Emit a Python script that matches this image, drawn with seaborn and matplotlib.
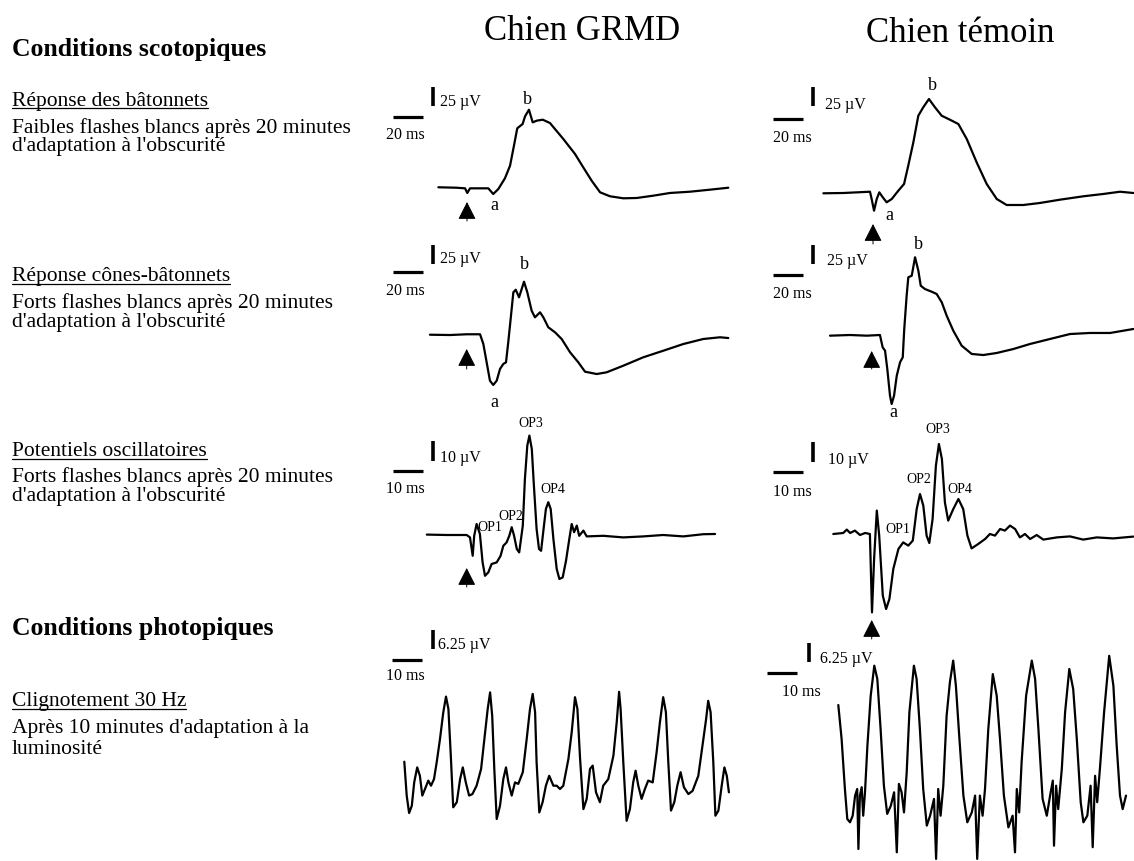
import matplotlib
matplotlib.use('Agg')
import matplotlib.pyplot as plt
import seaborn as sns

# ERG traces: time in ms (0 = flash), amplitude in uV
rod_grmd_ms = [-19.1, -6.9, -1.3, 0.2, 2, 14.2, 17.5, 20.9, 25.3, 28.7, 31.3, 33.5, 37.1, 38.7, 41.3, 43.8,
               46.5, 50.5, 55.3, 64.2, 72, 77.5, 83.1, 88.7, 95.3, 104.2, 113.1, 124.2, 135.3, 148.7, 162, 174.2]
rod_grmd_uv = [0.3, -0.3, -1.1, -7.3, -1.1, -1.1, -8.7, -2, 12.3, 29.1, 55.7, 78.9, 84.7, 94.9, 103.7, 86.9,
               89.1, 90.4, 86, 64.7, 44.7, 26.9, 9.1, -6.4, -11.7, -14.4, -14, -10.9, -7.3, -5.6, -2.9, -0.3]

rod_ctrl_ms = [-33.1, -19.8, -2, -0.9, 0.7, 2.5, 4.2, 6.5, 9.1, 12.5, 16.9, 20.7, 23.5, 26.9, 30.2, 33.5, 37.3,
               41.3, 45.8, 51.3, 56.9, 62.5, 69.1, 75.8, 82.5, 89.1, 100.2, 111.3, 124.7, 140.2, 153.5, 164.7, 173.6]
rod_ctrl_uv = [-0.4, 0, 1.7, -8, -23.6, -8, 0.9, -5.7, -12.4, -8, 3.1, 12, 36.4, 67.6, 103, 114.3, 125.3,
               114.3, 103, 97.7, 92, 72, 40.9, 12, -8, -16, -16, -13.3, -8.9, -4.4, -1.3, 1.7, 0]

mixed_grmd_ms = [-24.5, -11.1, 0, 8.9, 11.1, 13.3, 15.5, 17.7, 20, 22.2, 24.4, 26.2, 27.7, 29.3, 31.1, 32.7,
                 34.9, 38.2, 40.4, 43.3, 45.5, 48.9, 51.1, 54.4, 58.9, 63.3, 68.9, 74.4, 78.9, 86.7, 93.3,
                 104.4, 117.7, 131.1, 144.4, 157.7, 168.9, 174.4]
mixed_grmd_uv = [-0.3, -0.7, 0.3, 0.3, -12.7, -37.1, -61.6, -67.3, -61.6, -46, -39.3, -37.1, -10.4, 20.7,
                 56.3, 59.7, 49.6, 70.4, 56.3, 31.7, 22.9, 29.6, 22.9, 9.6, 2.9, -6, -23.7, -37.1, -49.6,
                 -52.7, -50.4, -41.6, -30.4, -21.6, -12.7, -6, -3.7, -4.7]

mixed_ctrl_ms = [-27.8, -14.5, -3.3, 5.5, 7.3, 8.9, 10.4, 12.2, 13.3, 14.9, 16.7, 18.9, 20.7, 21.7, 23.3, 24.4,
                 26.7, 28.9, 31.1, 32.7, 35.5, 40, 43.3, 46.7, 50, 54.4, 60, 66.7, 74.4, 83.3, 94.4, 105.5,
                 118.9, 132.2, 145.5, 158.9, 167.7, 174.4]
mixed_ctrl_uv = [-0.5, 0.4, -0.5, 0.4, -16, -20.5, -44.9, -80.5, -91.6, -80.5, -53.9, -36, -29.3, 8.4, 52.8,
                 77.3, 79.5, 104, 86.1, 66.1, 61.7, 58.1, 55.1, 44, 26.1, 6.1, -13.9, -24.9, -26.3, -23.6,
                 -18.3, -11.6, -4.9, 1.7, 3.1, 3.1, 6.1, 8.4]

ops_grmd_ms = [-13.3, -6.7, 0, 1.1, 2, 2.5, 3.3, 4.4, 5.3, 6.1, 7.2, 8.3, 10, 11.3, 12.2, 13.3, 14.2, 15, 15.8,
               16.7, 17.5, 18.7, 19.4, 20.2, 20.9, 21.7, 22.4, 23.3, 24.1, 24.8, 25.5, 26.4, 27.2, 28, 28.9,
               30, 30.9, 32, 33.1, 34.2, 35, 35.8, 36.7, 37.5, 38.9, 40, 45.5, 52.2, 58.9, 65.5, 72.2, 78.9, 82.8]
ops_grmd_uv = [0.2, 0, 0, -1.2, -10.4, -0.4, 5.5, 0.5, -13.7, -20.4, -18.7, -14.5, -13.7, -10.4, -5.4, -3.7,
               -0.4, 3.9, -0.4, -7, -8.7, 4.7, 28, 44.7, 49.7, 43, 24.7, 3, -7, -7.9, 1.4, 13, 16.4, 13, -2,
               -17, -22, -21.2, -12.9, -2, 5.5, 1.4, 4.7, -0.4, 2.2, -0.7, -0.4, -1.2, -0.7, 0, -0.7, 0.4, 0.5]

ops_ctrl_ms = [-12.8, -9.5, -8.3, -7.2, -5.6, -3.9, -2.2, -0.6, 0.1, 0.8, 1.7, 2.5, 3.7, 4.8, 5.9, 7.2, 8.9,
               10.5, 12.2, 13.7, 15, 16.1, 17.2, 18.3, 19.2, 20.3, 21.4, 22.4, 23.4, 24.4, 25.5, 27.2, 28.9,
               30.5, 31.9, 33.3, 35.5, 37.8, 39.4, 41.1, 42.8, 44.4, 46.1, 47.8, 49.4, 51.1, 52.8, 55, 57.2,
               61.7, 66.1, 70.5, 75, 80.5, 87.2]
ops_ctrl_uv = [0, 0.5, 2.2, 0.5, 1.7, -0.5, 0.5, 0, -39.2, -12.5, 11.7, -0.8, -30.8, -37.5, -32.5, -17.5, -7.5,
               -4.2, -5.8, -3.3, 12.5, 20, 14.2, -0.8, -4.5, 7.5, 34.2, 45, 37.5, 15.8, 6.7, 12.5, 17.5, 12.5,
               -0.8, -7.2, -5, -2.5, 0, -0.8, 2.5, 1.7, 4.2, 2.5, -1.7, 0, -2.5, -0.5, -2.8, -1.7, -1.2, -2.8,
               -1.7, -2.2, -1.3]

flicker_grmd_ms = [0, 0.8, 1.6, 2.5, 3.3, 4.3, 5.2, 6, 6.9, 8, 8.9, 9.9, 10.8, 11.9, 13, 13.9, 14.7, 15.5, 16.3,
                   17.5, 18.6, 19.5, 20.5, 21.6, 22.7, 24.1, 25.6, 26.7, 27.8, 28.6, 29.3, 30, 30.8, 31.9, 33,
                   33.9, 34.7, 35.8, 36.9, 38, 39.5, 40.8, 41.9, 42.8, 43.6, 44.1, 45, 46.1, 47.2, 48.3, 49.7,
                   50.8, 51.9, 53, 54.7, 55.8, 56.9, 57.7, 58.6, 59.7, 60.8, 61.9, 62.8, 63.9, 65.2, 66.3, 68,
                   69.7, 70.8, 71.6, 72.1, 73, 74.1, 75.2, 76.3, 77.1, 78, 79.1, 80.2, 81.3, 82.8, 84.1, 85.2,
                   86.3, 87.2, 88, 88.9, 90, 91, 92.1, 93.2, 94.7, 96.1, 98, 99.7, 100.6, 101.3, 102.1, 103,
                   103.7, 104.7, 105.8, 106.7, 107.5, 108.2]
flicker_grmd_uv = [9.1, -2.2, -8, -5.6, 2.2, 7.2, 4.4, -2.2, 0, 2.8, 1.1, 3.3, 8.9, 16.7, 25.6, 30.8, 26.7, 11.1,
                   -6.1, -4.4, 3.3, 7.2, 2.2, -2.2, -1.7, 1.1, 6.7, 16.7, 26.7, 32.2, 24.4, 6.7, -10, -5.6, 3.3,
                   7.2, 2.2, -2.2, 2.2, 1.7, 5.6, 16.7, 26.7, 31.7, 25.6, 8.9, -7.8, -4.4, 1.1, 4.4, 1.1, 1.1, 0,
                   1.1, 10, 18.9, 30.6, 26.7, 10, -6.7, -3.3, 6.7, 7.8, -1.1, -4.4, 1.1, 3.3, 11.1, 22.2, 32.4,
                   26.7, 8.9, -10.6, -6.7, 2.2, 6.1, 1.1, -3.3, 0, 2.8, 2.2, 12.2, 22.2, 30.6, 25.6, 8.9, -7.2,
                   -4.4, 1.1, 5.6, 0.6, -1.7, -0.6, 4.4, 16.7, 23.3, 29.4, 25.6, 8.9, -8.9, -7.2, 1.1, 7.2, 4.4,
                   -1.1]

flicker_ctrl_ms = [0, 1.1, 2.2, 3, 3.9, 4.8, 5.6, 6.3, 6.7, 7.2, 7.8, 8.3, 8.9, 9.7, 10.8, 12, 13, 14.1, 15.2,
                   16.3, 17.5, 18.6, 19.5, 20.2, 21.1, 21.9, 22.8, 23.7, 25.2, 26.1, 27.2, 28.3, 29.5, 30.6,
                   31.9, 32.6, 33.3, 34.1, 35, 36.1, 37.2, 38.3, 39.2, 40.3, 41.7, 43, 44.5, 45.6, 46.3, 47.2,
                   48.1, 48.9, 50, 51.5, 52.8, 53.9, 55.2, 56.7, 58.1, 58.9, 59.5, 60.3, 61.1, 62.6, 64.5, 65.6,
                   66.7, 68.1, 69.5, 70.6, 71.5, 71.9, 72.6, 73.3, 74.5, 75.6, 77, 78.3, 79.5, 80.8, 81.7, 83,
                   84.1, 84.8, 85.6, 86.3, 87.2, 88.6, 90.3, 91.7, 92.8, 93.9, 94.8, 95.9]
flicker_ctrl_uv = [28, 16.7, 0, -10, -11.1, -8.9, -2.2, 0, -20, -2.2, 0.6, -8.9, -1.1, 14.4, 31.1, 41.1, 36.7,
                   20, 1.1, -8.3, -5.6, -1.1, -21.1, 1.7, -1.1, -7.8, 5.6, 25.6, 41.1, 36.7, 20, 0, -12.2, -8.9,
                   -3.3, -23.3, 0, -8.9, 1.1, 24.4, 35.6, 42.8, 34.4, 17.8, -2.2, -11.1, -7.8, -2.2, -23.3,
                   -2.2, -8.9, 0, 20, 38.3, 31.1, 16.7, -2.2, -12.8, -8.9, -21.1, 0, -7.8, 8.9, 31.1, 42.8,
                   36.7, 20, -3.3, -8.9, -2.2, 2.8, -18.9, 1.1, -6.7, 6.7, 25.6, 40, 33.3, 16.7, -4.4, -11.1,
                   -8.9, 1.1, -19.4, 4.4, -4.4, 6.7, 25.6, 44.4, 34.4, 14.4, -2.2, -6.7, -2.2]

col_titles = ['Chien GRMD', 'Chien témoin']

sns.set_theme(style='white')
plt.rcParams['font.family'] = ['Liberation Serif', 'DejaVu Serif']
plt.rcParams['text.color'] = 'black'

W, H = 1134, 862
fig = plt.figure(figsize=(W / 100, H / 100), dpi=100)
fig.patch.set_facecolor('white')

# background axes in pixel coordinates for the text
bg = fig.add_axes([0, 0, 1, 1])
bg.set_xlim(0, W)
bg.set_ylim(H, 0)
bg.axis('off')


def panel(x0, y0, px_ms, px_uv):
    # full figure axes, scaled so that (0 ms, 0 uV) sits at pixel (x0, y0)
    ax = fig.add_axes([0, 0, 1, 1])
    ax.set_xlim(-x0 / px_ms, (W - x0) / px_ms)
    ax.set_ylim((y0 - H) / px_uv, y0 / px_uv)
    ax.axis('off')
    ax.patch.set_alpha(0)
    return ax


def draw_trace(ax, ms, uv):
    sns.lineplot(x=ms, y=uv, ax=ax, color='black', lw=1.6, estimator=None, sort=False)


def scale_bars(ax, x0, y0, px_ms, px_uv, hbar, vbar, ms_len, uv_len):
    hx = (hbar[0] - x0) / px_ms
    hy = (y0 - hbar[1]) / px_uv
    ax.plot([hx, hx + ms_len], [hy, hy], color='black', lw=2.3, solid_capstyle='butt')
    vx = (vbar[0] - x0) / px_ms
    vy = (y0 - vbar[1]) / px_uv
    ax.plot([vx, vx], [vy, vy + uv_len], color='black', lw=2.6, solid_capstyle='butt')


def flash_arrow(ax, y0, px_uv, tip, tail):
    ax.annotate('', xy=(0, (y0 - tip) / px_uv), xytext=(0, (y0 - tail) / px_uv),
                arrowprops=dict(arrowstyle='-|>,head_length=0.55,head_width=0.28', color='black',
                                lw=0.7, shrinkA=0, shrinkB=0, mutation_scale=20))


# panels: (trace, origin px, px per ms, px per uV, scale bars, bar sizes, arrow)
panels = [
    (rod_grmd_ms, rod_grmd_uv, 467, 188.5, 1.5, 0.75, (393, 118), (433, 107), 20, 25, (203, 222)),
    (rod_ctrl_ms, rod_ctrl_uv, 873, 194, 1.5, 0.75, (773, 120), (813, 107), 20, 25, (225, 245)),
    (mixed_grmd_ms, mixed_grmd_uv, 466.7, 335.5, 1.5, 0.75, (393, 273), (433, 265), 20, 25, (350, 370)),
    (mixed_ctrl_ms, mixed_ctrl_uv, 871.7, 336.3, 1.5, 0.75, (773, 276), (813, 265), 20, 25, (352, 370)),
    (ops_grmd_ms, ops_grmd_uv, 466.7, 536, 3, 2, (393, 472), (433, 462), 10, 10, (569, 588)),
    (ops_ctrl_ms, ops_ctrl_uv, 871.7, 535, 3, 2, (773, 473), (813, 463), 10, 10, (621, 640)),
    (flicker_grmd_ms, flicker_grmd_uv, 404.3, 790, 3, 3, (392, 661), (433, 650), 10, 6.25, None),
    (flicker_ctrl_ms, flicker_ctrl_uv, 838.3, 790, 3, 3, (767, 674), (809, 663), 10, 6.25, None),
]

for ms, uv, x0, y0, pms, puv, hbar, vbar, ms_len, uv_len, arrow in panels:
    ax = panel(x0, y0, pms, puv)
    draw_trace(ax, ms, uv)
    scale_bars(ax, x0, y0, pms, puv, hbar, vbar, ms_len, uv_len)
    if arrow is not None:
        flash_arrow(ax, y0, puv, arrow[0], arrow[1])

# column titles
bg.text(582, 40, col_titles[0], fontsize=25, ha='center', va='baseline')
bg.text(960, 42, col_titles[1], fontsize=25, ha='center', va='baseline')

# scale bar labels
scale_labels = [
    (440, 106.5, '25 µV', 'left'), (405, 139, '20 ms', 'center'),
    (825, 109, '25 µV', 'left'), (792, 141.5, '20 ms', 'center'),
    (440, 263, '25 µV', 'left'), (405, 295, '20 ms', 'center'),
    (827, 265.5, '25 µV', 'left'), (792, 298, '20 ms', 'center'),
    (440, 462.5, '10 µV', 'left'), (405, 493, '10 ms', 'center'),
    (828, 464, '10 µV', 'left'), (792, 496, '10 ms', 'center'),
    (438, 649, '6.25 µV', 'left'), (405, 680.5, '10 ms', 'center'),
    (820, 663, '6.25 µV', 'left'), (801, 696.5, '10 ms', 'center'),
]
for x, y, s, ha in scale_labels:
    bg.text(x, y, s, fontsize=11.5, ha=ha, va='baseline')

# wave labels
wave_labels = [
    (527, 100, 'b', 13), (494, 206, 'a', 13), (932, 86, 'b', 13), (889, 216, 'a', 13),
    (524, 265, 'b', 13), (494, 403, 'a', 13), (918, 245, 'b', 13), (893, 413, 'a', 13),
    (490, 528, 'OP1', 10), (511, 517, 'OP2', 10), (531, 424, 'OP3', 10), (553, 490, 'OP4', 10),
    (898, 530, 'OP1', 10), (919, 480, 'OP2', 10), (938, 430, 'OP3', 10), (960, 490, 'OP4', 10),
]
for x, y, s, fs in wave_labels:
    bg.text(x, y, s, fontsize=fs, ha='center', va='center')

# left side descriptions
bg.text(12, 56, 'Conditions scotopiques', fontsize=18.5, fontweight='bold', va='baseline')
bg.text(12, 635, 'Conditions photopiques', fontsize=18.5, fontweight='bold', va='baseline')

underlined = []
left_lines = [
    (106, 'Réponse des bâtonnets', True),
    (133, 'Faibles flashes blancs après 20 minutes', False),
    (151.5, "d'adaptation à l'obscurité", False),
    (281.5, 'Réponse cônes-bâtonnets', True),
    (308.5, 'Forts flashes blancs après 20 minutes', False),
    (327, "d'adaptation à l'obscurité", False),
    (456.5, 'Potentiels oscillatoires', True),
    (482.5, 'Forts flashes blancs après 20 minutes', False),
    (501.5, "d'adaptation à l'obscurité", False),
    (706.5, 'Clignotement 30 Hz', True),
    (733, "Après 10 minutes d'adaptation à la", False),
    (754, 'luminosité', False),
]
for y, s, ul in left_lines:
    t = bg.text(12, y, s, fontsize=15.5, va='baseline')
    if ul:
        underlined.append((t, y + 3))

fig.canvas.draw()
renderer = fig.canvas.get_renderer()
for t, uy in underlined:
    bb = t.get_window_extent(renderer)
    bg.plot([bb.x0, bb.x1], [uy, uy], color='black', lw=0.9)

fig.savefig('out.png', dpi=100)
